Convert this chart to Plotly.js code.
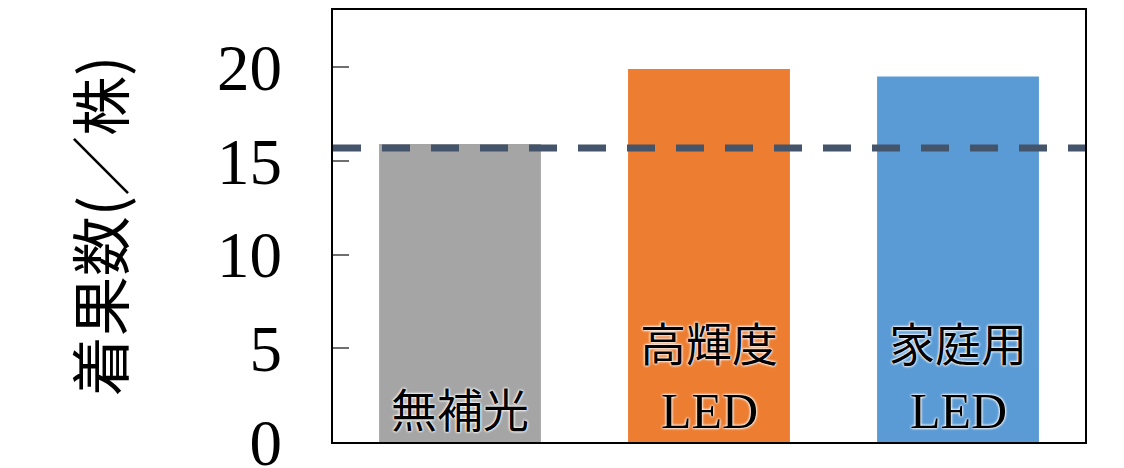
<!DOCTYPE html>
<html>
<head>
<meta charset="utf-8">
<script src="https://cdn.plot.ly/plotly-3.0.1.min.js"></script>
<style>html,body{margin:0;padding:0;background:#fff;}</style>
</head>
<body>
<div id="chart" style="width:1124px;height:468px;"></div>
<script>
const categories = ["無補光", "高輝度LED", "家庭用LED"];
const fruitCounts = [15.9, 19.9, 19.5];
const barColors = ["#a5a5a5", "#ed7d31", "#5b9bd5"];
const labelTop = ["", "高輝度", "家庭用"];
const labelBottom = ["無補光", "LED", "LED"];
const referenceLevel = [15.68];
const yTickVals = [0, 5, 10, 15, 20];
const yTickText = ["0", "5", "10", "15", "20"];

function labelFont(txt) {
  const latin = /^[\x00-\x7F]+$/.test(txt);
  return {family: "Liberation Serif, 'Noto Sans CJK JP', serif", size: latin ? 50 : 46, color: "#000",
    shadow: "0 0 3px #fff, 0 0 3px #fff, 0 0 2px #fff"};
}

const annotations = [];
categories.forEach((c, i) => {
  if (labelTop[i]) annotations.push({x: c, y: 0, xref: "x", yref: "y", text: labelTop[i], showarrow: false,
    yanchor: "middle", yshift: 97, font: labelFont(labelTop[i])});
  annotations.push({x: c, y: 0, xref: "x", yref: "y", text: labelBottom[i], showarrow: false,
    yanchor: "middle", yshift: 31, font: labelFont(labelBottom[i])});
});

const data = [{
  type: "bar", x: categories, y: fruitCounts, marker: {color: barColors}, width: 0.65,
  hoverinfo: "x+y"
}];

const layout = {
  width: 1124, height: 468,
  margin: {l: 333, r: 39, t: 10, b: 26, pad: 0},
  paper_bgcolor: "#fff", plot_bgcolor: "#fff",
  showlegend: false,
  xaxis: {range: [-0.51, 2.51], showticklabels: false, ticks: "", showgrid: false, zeroline: false,
    showline: true, mirror: true, linecolor: "#000", linewidth: 2},
  yaxis: {range: [0, 23.04], tickvals: yTickVals, ticktext: yTickText, ticks: "inside", ticklen: 16,
    tickcolor: "#6f6f6f", tickwidth: 2, showgrid: false, zeroline: false,
    showline: true, mirror: true, linecolor: "#000", linewidth: 2,
    ticklabelstandoff: 36, ticklabeloverflow: "allow",
    tickfont: {family: "Liberation Serif, serif", size: 65, color: "#000"},
    title: {text: "着果数(／株)", standoff: 73, font: {family: "'Noto Sans CJK JP', sans-serif", size: 60, color: "#000"}}
  },
  shapes: [{type: "line", xref: "paper", x0: 0, x1: 1, yref: "y", y0: referenceLevel[0], y1: referenceLevel[0],
    line: {color: "#44546a", width: 7, dash: "28px,21px"}}],
  annotations: annotations
};
Plotly.newPlot("chart", data, layout, {displayModeBar: false, staticPlot: true});
</script>
</body>
</html>
